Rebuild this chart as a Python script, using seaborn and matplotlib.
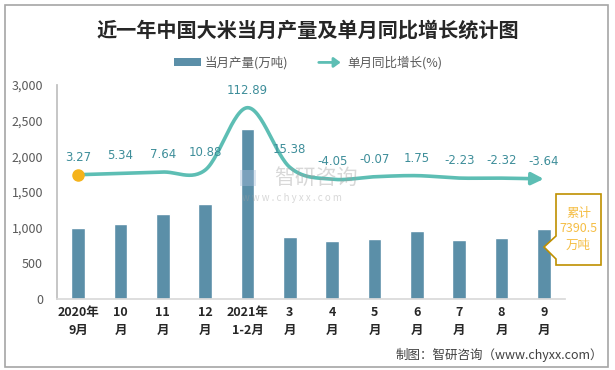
import numpy as np
import pandas as pd
import matplotlib
matplotlib.use("Agg")
import matplotlib.pyplot as plt
import seaborn as sns
from matplotlib.patches import Polygon, Rectangle, FancyArrowPatch, Patch
from matplotlib.lines import Line2D
from matplotlib.legend_handler import HandlerBase
from matplotlib.ticker import FuncFormatter

# ---------------- data ----------------
categories = ["2020年\n9月", "10\n月", "11\n月", "12\n月", "2021年\n1-2月", "3\n月",
              "4\n月", "5\n月", "6\n月", "7\n月", "8\n月", "9\n月"]
production = [998, 1054, 1195, 1335, 2385, 873, 817, 845, 957, 831, 859, 985]
growth = [3.27, 5.34, 7.64, 10.88, 112.89, 15.38, -4.05, -0.07, 1.75, -2.23, -2.32, -3.64]
y_ticks = [0, 500, 1000, 1500, 2000, 2500, 3000]
bar_label = "当月产量(万吨)"
line_label = "单月同比增长(%)"
title = "近一年中国大米当月产量及单月同比增长统计图"
cumulative_note = "累计\n7390.5\n万吨"
source = "制图：智研咨询（www.chyxx.com）"

# ---------------- style ----------------
sns.set_theme(style="white")
plt.rcParams["font.family"] = ["Noto Sans CJK SC", "DejaVu Sans"]
plt.rcParams["axes.unicode_minus"] = False

BAR_C = "#5B8FA8"
LINE_C = "#5DBEB4"
LABEL_C = "#3E8E9A"
TXT_C = "#595959"

W, H = 615, 370
fig = plt.figure(figsize=(W / 100, H / 100), dpi=100)

def fx(px):
    return px / W

def fy(py):
    return 1 - py / H

ax = fig.add_axes([fx(57), fy(299), fx(565) - fx(57), fy(85) - fy(299)])

df = pd.DataFrame({"cat": categories, "val": production})
sns.barplot(data=df, x="cat", y="val", order=categories, color=BAR_C,
            saturation=1, width=0.33, ax=ax, zorder=2)
ax.set_xlim(-0.5, len(categories) - 0.5)
ax.set_ylim(0, 3000)
ax.set_yticks(y_ticks)
ax.yaxis.set_major_formatter(FuncFormatter(lambda v, p: f"{int(v):,}"))
ax.set_xlabel("")
ax.set_ylabel("")
ax.tick_params(axis="y", length=0, labelsize=9, labelcolor=TXT_C, pad=10)
ax.tick_params(axis="x", which="major", length=0, labelsize=9, labelcolor="#262626", pad=5)
ax.set_xticks(np.arange(-0.5, len(categories), 1), minor=True)
ax.tick_params(axis="x", which="minor", length=5, color="#D9D9D9", width=1)
for lbl in ax.get_xticklabels():
    lbl.set_fontweight("bold")
    lbl.set_linespacing(1.55)
for s in ["top", "right"]:
    ax.spines[s].set_visible(False)
ax.spines["left"].set_color("#BFBFBF")
ax.spines["bottom"].set_color("#D9D9D9")
ax.grid(False)

# secondary axis for growth line
ax2 = ax.twinx()
ax2.set_ylim(-200, 150)
ax2.set_xlim(-0.5, len(categories) - 0.5)
ax2.axis("off")

# smooth (Excel-like) curve through the data points
xs = np.arange(len(growth), dtype=float)
pts = np.column_stack([xs, np.array(growth, dtype=float)])
n = len(pts)
curve = []
for i in range(n - 1):
    p0 = pts[i - 1] if i > 0 else pts[i]
    p1 = pts[i]
    p2 = pts[i + 1]
    p3 = pts[i + 2] if i + 2 < n else pts[i + 1]
    c1 = p1 + (p2 - p0) / 6
    c2 = p2 - (p3 - p1) / 6
    t = np.linspace(0, 1, 30)[:, None]
    seg = ((1 - t) ** 3) * p1 + 3 * ((1 - t) ** 2) * t * c1 + 3 * (1 - t) * t ** 2 * c2 + t ** 3 * p2
    curve.append(seg if i == 0 else seg[1:])
curve = np.vstack(curve)
cut = len(curve) - 8
ax2.plot(curve[:cut, 0], curve[:cut, 1], color=LINE_C, lw=2.6, solid_capstyle="round", zorder=3)
ax2.annotate("", xy=tuple(curve[-1]), xytext=tuple(curve[cut - 1]),
             arrowprops=dict(arrowstyle="-|>,head_length=0.6,head_width=0.3",
                             color=LINE_C, lw=2.6, shrinkA=0, shrinkB=0), zorder=3)
ax2.plot([xs[0]], [growth[0]], "o", color="#F5B31B", ms=8, zorder=4)

for x, v in zip(xs, growth):
    ax2.annotate(f"{v:.2f}", xy=(x, v), xytext=(0, 8), textcoords="offset points",
                 ha="center", va="bottom", fontsize=8.5, color=LABEL_C,
                 family=["DejaVu Sans"], zorder=5)

# watermark
fig.text(fx(316), fy(178), "智研咨询", fontsize=15, color="#9E9E9E", alpha=0.4,
         ha="center", va="center", zorder=0)
fig.text(fx(292), fy(198), "w w w . c h y x x . c o m", fontsize=7, color="#9E9E9E",
         alpha=0.4, ha="center", va="center", zorder=0)
fig.patches.append(Rectangle((fx(240), fy(186)), fx(16), fy(170) - fy(186),
                             transform=fig.transFigure, facecolor="#A9BEDB", alpha=0.4,
                             edgecolor="none", zorder=0))

# title
fig.text(0.5, fy(30), title, ha="center", va="center", fontsize=14.5,
         fontweight="bold", color="#262626")

# legend with arrow handle
class ArrowHandler(HandlerBase):
    def create_artists(self, legend, orig_handle, xdescent, ydescent, width, height, fontsize, trans):
        y = height / 2 - ydescent
        a = FancyArrowPatch((-xdescent, y), (width - xdescent, y),
                            arrowstyle="-|>,head_length=3,head_width=2.2",
                            mutation_scale=1.3, color=LINE_C, lw=2.0, transform=trans)
        return [a]

bar_handle = Patch(facecolor=BAR_C, edgecolor="none")
line_handle = Line2D([], [], color=LINE_C)
leg = fig.legend([bar_handle, line_handle], [bar_label, line_label],
                 handler_map={Line2D: ArrowHandler()},
                 loc="center", bbox_to_anchor=(fx(308), fy(63)), ncol=2, frameon=False,
                 fontsize=9, handlelength=2.2, handleheight=0.6, handletextpad=0.3,
                 columnspacing=2.2, labelcolor=TXT_C)

# callout box for cumulative total
poly_px = [(556, 194), (601, 194), (601, 265), (556, 265), (556, 259), (544, 247), (556, 236)]
poly = Polygon([(fx(x), fy(y)) for x, y in poly_px], closed=True, transform=fig.transFigure,
               facecolor="white", edgecolor="#BF9000", lw=1.2, zorder=10)
fig.patches.append(poly)
fig.text(fx(578.5), fy(229), cumulative_note, ha="center", va="center", fontsize=9,
         color="#F5BE45", linespacing=1.3, zorder=11)

# source
fig.text(fx(603), fy(355), source, ha="right", va="center", fontsize=9, color="#404040")

# outer border
fig.patches.append(Rectangle((fx(5), fy(367)), fx(608) - fx(5), fy(5) - fy(367),
                             transform=fig.transFigure, fill=False, edgecolor="#A6A6A6",
                             lw=1.2, zorder=20))

fig.savefig("out.png", dpi=100)
